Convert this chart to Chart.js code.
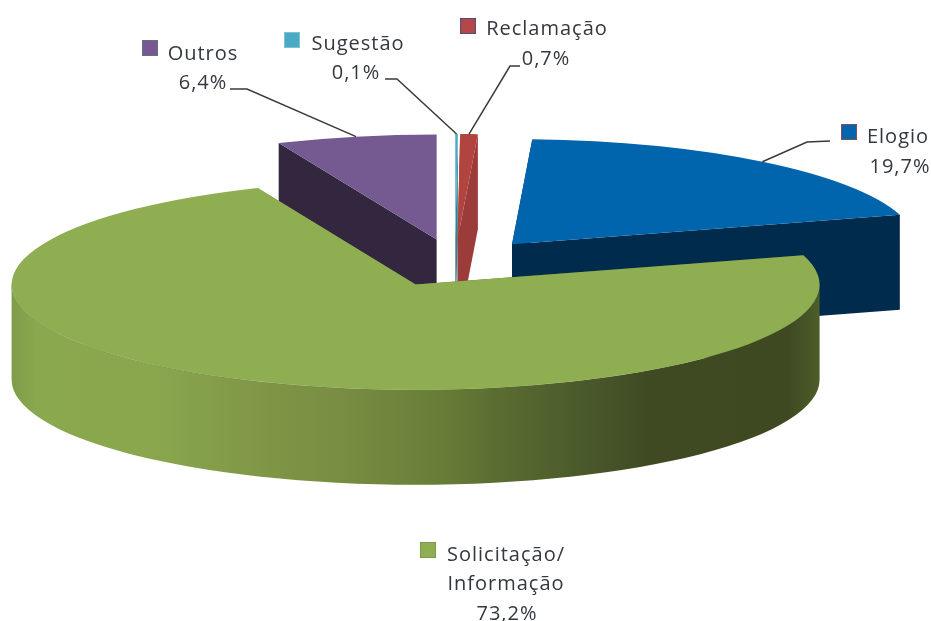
<!DOCTYPE html>
<html>
<head>
<meta charset="utf-8">
<title>Manifestações</title>
<script src="https://cdn.jsdelivr.net/npm/chart.js@4"></script>
<style>
  html, body { margin: 0; padding: 0; background: #fff; }
  canvas { display: block; filter: blur(0.6px); }
</style>
</head>
<body>
<canvas id="pie3d" width="931" height="621"></canvas>
<script>
// values, in slice order (clockwise from the top)
const categories = ['Sugestão', 'Reclamação', 'Elogio', 'Solicitação/', 'Outros'];
const values = [0.1, 0.7, 19.7, 73.2, 6.4];
const percentLabels = ['0,1%', '0,7%', '19,7%', '73,2%', '6,4%'];

const topColors = ['#4aa9c5', '#b1443f', '#0065ad', '#8fae52', '#755a92'];
const wallColors = ['#2f7f96', '#9b3c3a', '#002b4d', null, '#33263f'];
const markerColors = ['#4aa9c5', '#b5474a', '#0065ad', '#8fae52', '#755a92'];
const markerBorders = ['#7fc0d3', '#4a5078', '#8a4a55', '#7f9a50', '#6a6a80'];

// 3d look: squash the pie and extrude it
const squash = 0.26;
const depth = 95;
const pieCentre = { x: 455, y: 263 };
const pieRadius = 404;
const explode = 92;

const greenStops = [
  [0, '#7f9d49'], [0.03, '#8aa84e'], [0.17, '#8aa74e'], [0.32, '#7e9546'],
  [0.41, '#788d42'], [0.54, '#667c36'], [0.6, '#5a6d31'], [0.73, '#475529'],
  [0.79, '#3f4a22'], [0.96, '#3e4921'], [1, '#4e5e2a']
];

// label layout, same order as categories
const markerBoxes = [[284, 32], [460, 18], [841, 124], [420, 542], [142, 40]];
const nameSpots = [[358, 50], [547, 35], [898, 143], [506, 561], [203, 60]];
const percentSpots = [[356, 79], [546, 65], [900, 173], [507, 620], [203, 89]];
const extraLine = { index: 3, text: 'Informação', x: 506, y: 590 };
// elbow then end of each leader line, null = no leader
const leaderBends = [[[397, 79], [385, 79]], [[510, 66], [520, 66]], [[807, 142], [830, 141]], null, [[247, 89], [230, 89]]];

function project(arc, angle, r) {
  const mid = (arc.startAngle + arc.endAngle) / 2;
  return {
    x: pieCentre.x + Math.cos(mid) * explode + Math.cos(angle) * r,
    y: pieCentre.y + (Math.sin(mid) * explode + Math.sin(angle) * r) * squash
  };
}

function drawFace(ctx, arc, angle, color) {
  const a = project(arc, angle, 0);
  const b = project(arc, angle, arc.outerRadius);
  ctx.fillStyle = color;
  ctx.beginPath();
  ctx.moveTo(a.x, a.y);
  ctx.lineTo(b.x, b.y);
  ctx.lineTo(b.x, b.y + depth);
  ctx.lineTo(a.x, a.y + depth);
  ctx.closePath();
  ctx.fill();
}

function drawOuterWall(ctx, arc, color) {
  const from = Math.max(arc.startAngle, 0);
  const to = Math.min(arc.endAngle, Math.PI);
  if (to <= from) return;
  const c = project(arc, 0, 0);
  const r = arc.outerRadius;
  ctx.fillStyle = color;
  ctx.beginPath();
  ctx.ellipse(c.x, c.y, r, r * squash, 0, from, to);
  ctx.ellipse(c.x, c.y + depth, r, r * squash, 0, to, from, true);
  ctx.closePath();
  ctx.fill();
  // faint seam between top and side
  ctx.strokeStyle = 'rgba(85,105,45,0.3)';
  ctx.lineWidth = 1;
  ctx.beginPath();
  ctx.ellipse(c.x, c.y, r, r * squash, 0, from, to);
  ctx.stroke();
}

const pie3dPlugin = {
  id: 'pie3d',
  afterDatasetsUpdate(chart) {
    // the offset option also grows the radius, so move the arcs apart here
    chart.getDatasetMeta(0).data.forEach(arc => {
      const mid = (arc.startAngle + arc.endAngle) / 2;
      arc.x += Math.cos(mid) * explode;
      arc.y += Math.sin(mid) * explode;
    });
  },
  beforeDatasetsDraw(chart) {
    const ctx = chart.ctx;
    const arcs = chart.getDatasetMeta(0).data;
    const area = chart.chartArea;

    const green = ctx.createLinearGradient(pieCentre.x - 443, 0, pieCentre.x + 365, 0);
    greenStops.forEach(s => green.addColorStop(s[0], s[1]));

    // biggest slice sits in front of the others
    const order = arcs.map((a, i) => i).sort((p, q) => values[p] - values[q]);
    order.forEach(i => {
      const color = wallColors[i] || green;
      drawFace(ctx, arcs[i], arcs[i].startAngle, color);
      drawFace(ctx, arcs[i], arcs[i].endAngle, color);
      drawOuterWall(ctx, arcs[i], color);
    });

    // tops are the library's own arcs, only flattened
    ctx.save();
    ctx.translate(pieCentre.x, pieCentre.y);
    ctx.scale(1, squash);
    ctx.translate(-(area.left + area.right) / 2, -(area.top + area.bottom) / 2);
  },
  afterDatasetsDraw(chart) {
    const ctx = chart.ctx;
    ctx.restore();
    const arcs = chart.getDatasetMeta(0).data;

    // leader lines start on the rim, at the middle of the slice
    ctx.strokeStyle = '#3a3a3a';
    ctx.lineWidth = 1.5;
    leaderBends.forEach((bend, i) => {
      if (!bend) return;
      const mid = (arcs[i].startAngle + arcs[i].endAngle) / 2;
      const p = project(arcs[i], mid, arcs[i].outerRadius);
      ctx.beginPath();
      ctx.moveTo(p.x, p.y);
      ctx.lineTo(bend[0][0], bend[0][1]);
      ctx.lineTo(bend[1][0], bend[1][1]);
      ctx.stroke();
    });

    ctx.font = '20px "Open Sans"';
    ctx.letterSpacing = '1px';
    ctx.textAlign = 'center';
    ctx.textBaseline = 'alphabetic';
    categories.forEach((name, i) => {
      ctx.fillStyle = markerColors[i];
      ctx.strokeStyle = markerBorders[i];
      ctx.lineWidth = 1;
      ctx.fillRect(markerBoxes[i][0], markerBoxes[i][1], 16, 16);
      ctx.strokeRect(markerBoxes[i][0] + 0.5, markerBoxes[i][1] + 0.5, 15, 15);
      ctx.fillStyle = '#33373e';
      ctx.fillText(name, nameSpots[i][0], nameSpots[i][1]);
      ctx.fillText(percentLabels[i], percentSpots[i][0], percentSpots[i][1]);
      if (extraLine.index === i) ctx.fillText(extraLine.text, extraLine.x, extraLine.y);
    });
  }
};

new Chart(document.getElementById('pie3d'), {
  type: 'pie',
  data: {
    labels: categories,
    datasets: [{
      data: values,
      backgroundColor: topColors,
      borderWidth: 0,
      clip: false
    }]
  },
  options: {
    responsive: false,
    animation: false,
    devicePixelRatio: 1,
    radius: pieRadius,
    rotation: 0,
    layout: { padding: 0 },
    plugins: {
      legend: { display: false },
      tooltip: { enabled: false }
    }
  },
  plugins: [pie3dPlugin]
});
</script>
</body>
</html>
